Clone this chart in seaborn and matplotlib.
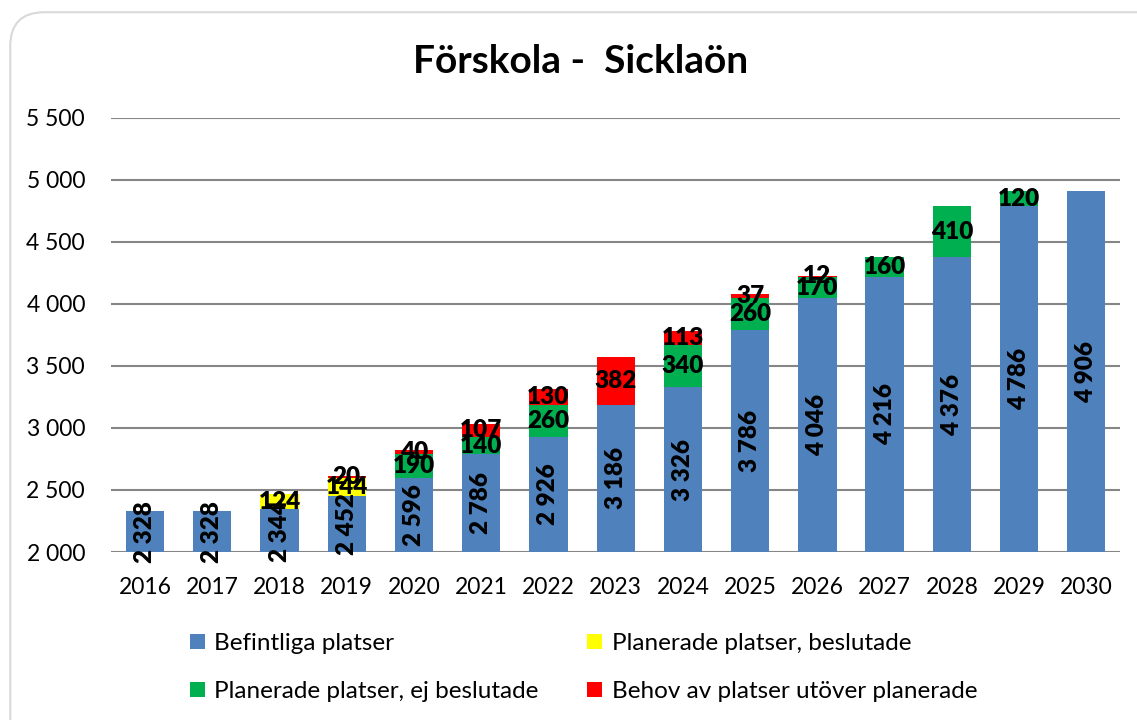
import numpy as np
import pandas as pd
import matplotlib
matplotlib.use("Agg")
import matplotlib.pyplot as plt
import seaborn as sns
from matplotlib.patches import Patch, FancyBboxPatch

sns.set_theme(style="white")
plt.rcParams['font.family'] = ['Lato', 'DejaVu Sans']
plt.rcParams['text.color'] = 'black'

# === Data ===
years = ["2016", "2017", "2018", "2019", "2020", "2021", "2022", "2023",
         "2024", "2025", "2026", "2027", "2028", "2029", "2030"]
befintliga = [2328, 2328, 2344, 2452, 2596, 2786, 2926, 3186, 3326, 3786, 4046, 4216, 4376, 4786, 4906]
beslutade = [0, 0, 124, 144, 0, 0, 0, 0, 0, 0, 0, 0, 0, 0, 0]
ej_beslutade = [0, 0, 0, 0, 190, 140, 260, 0, 340, 260, 170, 160, 410, 120, 0]
behov = [0, 0, 0, 20, 40, 107, 130, 382, 113, 37, 12, 0, 0, 0, 0]

series_names = ["Befintliga platser", "Planerade platser, beslutade",
                "Planerade platser, ej beslutade", "Behov av platser utöver planerade"]
colors = ["#4F81BD", "#FFFF00", "#00B050", "#FF0000"]

df = pd.DataFrame({"year": years, series_names[0]: befintliga, series_names[1]: beslutade,
                   series_names[2]: ej_beslutade, series_names[3]: behov})
cum = df[series_names].cumsum(axis=1)

# === Figure ===
fig = plt.figure(figsize=(11.37, 7.2), dpi=100)
fig.patch.set_facecolor("white")
frame = FancyBboxPatch((0.009, -0.05), 1.05, 1.033, boxstyle="round,pad=0,rounding_size=0.03",
                       transform=fig.transFigure, facecolor="none", edgecolor="#d9d9d9", lw=1.5,
                       mutation_aspect=1.58, zorder=-1)
fig.patches.append(frame)

ax = fig.add_axes([0.098, 0.2333, 0.887, 0.6032])
ax.set_facecolor("none")

# stack: draw tallest cumulative first
for name, col in reversed(list(zip(series_names, colors))):
    sns.barplot(x=df["year"], y=cum[name], color=col, saturation=1, width=0.57,
                ax=ax, zorder=2, edgecolor="none")

# labels
fmt = lambda v: f"{v:,}".replace(",", " ")
for i in range(len(years)):
    base = 2000
    for j, name in enumerate(series_names):
        v = df[name].iloc[i]
        top = cum[name].iloc[i]
        if v <= 0:
            continue
        lo = max(base, top - v)
        mid = (lo + top) / 2
        if j == 0:
            ax.text(i, mid, fmt(v), rotation=90, ha="center", va="center", fontsize=17.5,
                    fontweight="heavy", color="black", zorder=5)
        else:
            ax.text(i, mid, fmt(v), ha="center", va="center", fontsize=17.5,
                    fontweight="heavy", color="black", zorder=5)

ax.set_ylim(2000, 5500)
ax.set_yticks(np.arange(2000, 5501, 500))
ax.set_yticklabels([fmt(t) for t in range(2000, 5501, 500)])
ax.yaxis.grid(True, color="#868686", lw=1.5, zorder=0)
ax.set_axisbelow(True)
for s in ax.spines.values():
    s.set_visible(False)
ax.tick_params(axis="y", length=0, labelsize=16.5, pad=19, colors="black")
ax.tick_params(axis="x", length=0, labelsize=16.5, pad=18, colors="black")
ax.set_xlabel("")
ax.set_ylabel("")
ax.set_xlim(-0.5, len(years) - 0.5)

fig.text(0.511, 0.914, "Förskola -  Sicklaön", ha="center", va="center",
         fontsize=28, fontweight="bold", color="black")

handles = [Patch(facecolor=c, edgecolor="none") for c in colors]
order = [0, 2, 1, 3]
fig.legend([handles[k] for k in order], [series_names[k] for k in order], ncol=2,
           loc="center left", bbox_to_anchor=(0.148, 0.073), frameon=False, fontsize=17.5,
           handlelength=0.6, handleheight=0.6, handletextpad=0.4, columnspacing=2.0,
           labelspacing=1.1, labelcolor="black")

fig.savefig("out.png", dpi=100)
